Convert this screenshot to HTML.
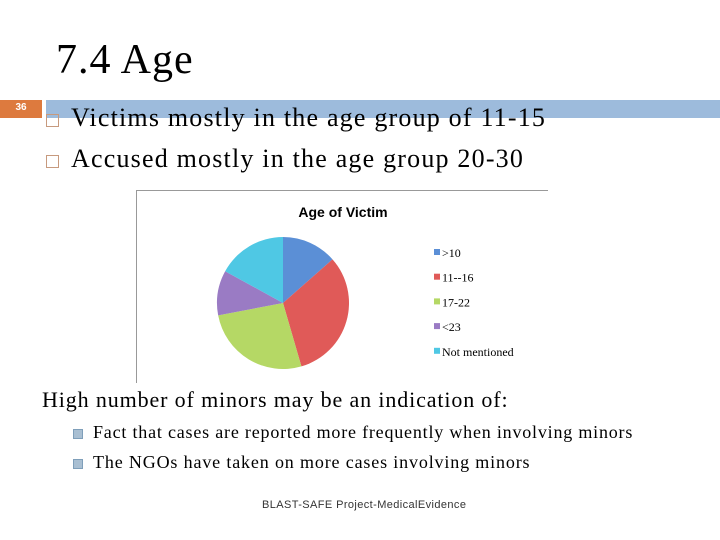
<!DOCTYPE html>
<html><head><meta charset="utf-8"><style>
body{margin:0;width:720px;height:540px;background:#fff;position:relative;overflow:hidden;font-family:"Liberation Serif",serif}
.a{position:absolute;white-space:nowrap}
</style></head><body>
<div class="a" style="left:56px;top:36px;font-size:42px;letter-spacing:1px;color:#000">7.4 Age</div>
<div class="a" style="left:0;top:100px;width:42px;height:18px;background:#dd7a3e;color:#fff;font:bold 10px 'Liberation Sans',sans-serif;text-align:center;line-height:16px">36</div>
<div class="a" style="left:46px;top:100px;width:674px;height:18px;background:#9dbbdc"></div>
<div class="a" style="left:46px;top:102px;font-size:26px;line-height:32px;letter-spacing:1.2px"><span style="display:inline-block;width:11px;height:11px;border:1px solid #c79a7e;margin-right:12px;vertical-align:middle"></span>Victims mostly in the age group of 11-15</div>
<div class="a" style="left:46px;top:143px;font-size:26px;line-height:32px;letter-spacing:1.2px"><span style="display:inline-block;width:11px;height:11px;border:1px solid #c79a7e;margin-right:12px;vertical-align:middle"></span>Accused mostly in the age group 20-30</div>
<svg class="a" style="left:0;top:0" width="720" height="540">
<line x1="136.5" y1="190" x2="136.5" y2="383" stroke="#999"/>
<line x1="136" y1="190.5" x2="548" y2="190.5" stroke="#999"/>
<text x="343" y="217" text-anchor="middle" font-family="Liberation Sans,sans-serif" font-weight="bold" font-size="14">Age of Victim</text>
<g id="pie"></g><g id="legend"></g>
</svg>
<div class="a" style="left:42px;top:386px;font-size:22px;line-height:28px;letter-spacing:0.87px">High number of minors may be an indication of:</div>
<div class="a" style="left:73px;top:420px;font-size:18px;line-height:24px;letter-spacing:0.8px"><span style="display:inline-block;width:8px;height:8px;background:#a9bfd2;border:1px solid #7f9fba;margin-right:10px;vertical-align:middle"></span>Fact that cases are reported more frequently when involving minors</div>
<div class="a" style="left:73px;top:450px;font-size:18px;line-height:24px;letter-spacing:0.85px"><span style="display:inline-block;width:8px;height:8px;background:#a9bfd2;border:1px solid #7f9fba;margin-right:10px;vertical-align:middle"></span>The NGOs have taken on more cases involving minors</div>
<div class="a" style="left:262px;top:499px;font:11px 'Liberation Sans',sans-serif;letter-spacing:0.4px;color:#333">BLAST-SAFE Project-MedicalEvidence</div>
<script>
const categories=[">10","11--16","17-22","<23","Not mentioned"];
const values=[13.5,32,26.5,11,17];
const colors=["#5b8fd6","#e05a58","#b5d865","#9a7bc4","#4fc8e4"];
const cx=283,cy=303,r=66,NS="http://www.w3.org/2000/svg";
const total=values.reduce((a,b)=>a+b,0);
let ang=0;const pie=document.getElementById('pie'),lg=document.getElementById('legend');
values.forEach((v,i)=>{
  const a0=ang,a1=ang+v/total*2*Math.PI;ang=a1;
  const p=(a)=>[cx+r*Math.sin(a),cy-r*Math.cos(a)];
  const [x0,y0]=p(a0),[x1,y1]=p(a1);
  const path=document.createElementNS(NS,'path');
  path.setAttribute('d',`M${cx},${cy}L${x0},${y0}A${r},${r} 0 ${a1-a0>Math.PI?1:0} 1 ${x1},${y1}Z`);
  path.setAttribute('fill',colors[i]);
  
  
  pie.appendChild(path);
  const y=254+i*24.7;
  const sq=document.createElementNS(NS,'rect');
  sq.setAttribute('x',434);sq.setAttribute('y',y-5);sq.setAttribute('width',6);sq.setAttribute('height',6);sq.setAttribute('fill',colors[i]);
  
  
  lg.appendChild(sq);
  const t=document.createElementNS(NS,'text');
  t.setAttribute('x',442);t.setAttribute('y',y+3);t.setAttribute('font-size','12');t.setAttribute('font-family','Liberation Serif,serif');
  t.textContent=categories[i];
  
  
  lg.appendChild(t);
});
</script>
</body></html>
